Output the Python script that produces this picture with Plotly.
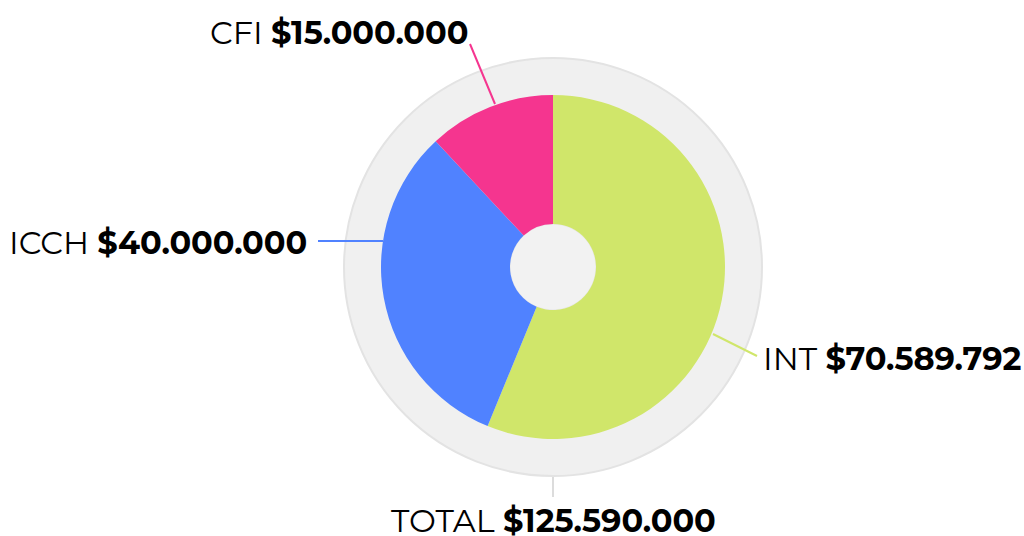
import math
import plotly.graph_objects as go

# ---- data ----
labels = ["INT", "ICCH", "CFI"]
values = [70589792, 40000000, 15000000]
colors = ["#d0e66a", "#5082ff", "#f5358f"]
total_label = "TOTAL"
total_value = 125590000

W, H = 1024, 536
CX, CY = 553, 267          # pie centre (px in screenshot)
R_PIE, R_RING, R_HOLE = 172, 209, 43


def fmt(v):
    return "$" + f"{v:,}".replace(",", ".")


def px(x):
    return x / W


def py(y):
    return 1 - y / H


fig = go.Figure()
fig.add_trace(go.Pie(
    labels=labels, values=values, sort=False, direction="clockwise", rotation=0,
    marker=dict(colors=colors, line=dict(width=0)),
    hole=R_HOLE / R_PIE, textinfo="none", hoverinfo="none", showlegend=False,
    domain=dict(x=[px(CX - R_PIE), px(CX + R_PIE)], y=[py(CY + R_PIE), py(CY - R_PIE)]),
))

shapes = [
    dict(type="circle", xref="paper", yref="paper", layer="below",
         x0=px(CX - R_RING), x1=px(CX + R_RING), y0=py(CY + R_RING), y1=py(CY - R_RING),
         fillcolor="#f0f0f0", line=dict(color="#e3e3e3", width=2)),
    dict(type="circle", xref="paper", yref="paper", layer="below",
         x0=px(CX - R_HOLE), x1=px(CX + R_HOLE), y0=py(CY + R_HOLE), y1=py(CY - R_HOLE),
         fillcolor="#f2f2f2", line=dict(color="#e8e8e8", width=1)),
]

# leader lines and text placement (screenshot pixels)
leader = {
    "INT": ((713, 334), (757, 356)),
    "ICCH": ((383, 241), (318, 241)),
    "CFI": ((495, 104), (470, 44)),
}
text_pos = {
    "INT": (761, 358, "left"),
    "ICCH": (309, 242, "right"),
    "CFI": (471, 33, "right"),
}
FONT = "Montserrat, DejaVu Sans, sans-serif"
FS = 32
annotations = []
for lab, val, col in zip(labels, values, colors):
    (x0, y0), (x1, y1) = leader[lab]
    shapes.append(dict(type="line", xref="paper", yref="paper",
                       x0=px(x0), y0=py(y0), x1=px(x1), y1=py(y1),
                       line=dict(color=col, width=2)))
    tx, ty, anc = text_pos[lab]
    annotations.append(dict(xref="paper", yref="paper", x=px(tx), y=py(ty),
                            xanchor=anc, yanchor="middle", showarrow=False,
                            text=f"{lab} <b>{fmt(val)}</b>",
                            font=dict(family=FONT, size=FS, color="#000000")))

shapes.append(dict(type="line", xref="paper", yref="paper",
                   x0=px(CX), y0=py(CY + R_RING + 1), x1=px(CX), y1=py(497),
                   line=dict(color="#dcdcdc", width=2)))
annotations.append(dict(xref="paper", yref="paper", x=px(CX), y=py(520),
                        xanchor="center", yanchor="middle", showarrow=False,
                        text=f"{total_label} <b>{fmt(total_value)}</b>",
                        font=dict(family=FONT, size=FS, color="#000000")))

fig.update_layout(width=W, height=H, margin=dict(l=0, r=0, t=0, b=0),
                  paper_bgcolor="white", plot_bgcolor="white",
                  shapes=shapes, annotations=annotations)
fig.write_html("out.html", config={"displayModeBar": False},
               post_script="document.body.style.margin='0';"
                           "document.body.style.overflow='hidden';")
